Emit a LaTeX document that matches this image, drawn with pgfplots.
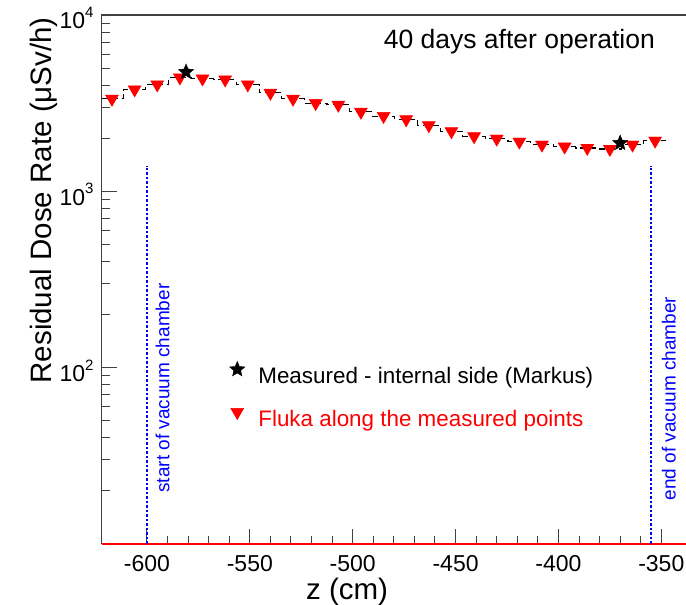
\documentclass[border=0pt]{standalone}
\usepackage{pgfplots}
\pgfplotsset{compat=1.18}
\usepackage{fontspec}
\setmainfont{Liberation Sans}
\pgfdeclareplotmark{fstar}{%
\pgfpathmoveto{\pgfpointpolar{90}{\pgfplotmarksize}}%
\pgfpathlineto{\pgfpointpolar{126}{0.45\pgfplotmarksize}}%
\pgfpathlineto{\pgfpointpolar{162}{\pgfplotmarksize}}%
\pgfpathlineto{\pgfpointpolar{198}{0.45\pgfplotmarksize}}%
\pgfpathlineto{\pgfpointpolar{234}{\pgfplotmarksize}}%
\pgfpathlineto{\pgfpointpolar{270}{0.45\pgfplotmarksize}}%
\pgfpathlineto{\pgfpointpolar{306}{\pgfplotmarksize}}%
\pgfpathlineto{\pgfpointpolar{342}{0.45\pgfplotmarksize}}%
\pgfpathlineto{\pgfpointpolar{18}{\pgfplotmarksize}}%
\pgfpathlineto{\pgfpointpolar{54}{0.45\pgfplotmarksize}}%
\pgfpathclose\pgfusepathqfillstroke}
\newcommand{\tlab}[1]{10\raisebox{0.5em}{\fontsize{15}{15}\selectfont #1}}
\pgfplotstableread{
z val
-617 3344
-606 3777
-595 4032
-584 4416
-573 4359
-562 4303
-551 4032
-540 3616
-529 3344
-518 3162
-507 3093
-496 2823
-485 2670
-474 2558
-463 2366
-452 2188
-441 2050
-430 1987
-419 1911
-408 1838
-397 1791
-386 1761
-375 1738
-364 1838
-353 1936
}\fluka
\pgfplotstableread{
z val
-622 3344
-617 3344
-606 3777
-595 4032
-584 4416
-573 4359
-562 4303
-551 4032
-540 3616
-529 3344
-518 3162
-507 3093
-496 2823
-485 2670
-474 2558
-463 2366
-452 2188
-441 2050
-430 1987
-419 1911
-408 1838
-397 1791
-386 1761
-375 1738
-364 1838
-353 1936
-347.5 1936
}\flukahist
\begin{document}
\begin{tikzpicture}
\useasboundingbox (-101.7pt,-61pt) rectangle (584.3pt,544pt);
\begin{axis}[
  at={(0pt,0pt)}, anchor=south west,
  scale only axis, width=584.3pt, height=529pt,
  xmin=-622, xmax=-338,
  ymode=log, ymin=10, ymax=10000,
  clip=false,
  axis line style={draw=none},
  tickpos=left, tick align=inside,
  major tick length=15pt, minor tick length=8pt,
  tick style={black!75, line width=1pt},
  xtick={-600,-550,-500,-450,-400,-350},
  xticklabels={-600,-550,-500,-450,-400,-350},
  minor x tick num=4,
  ytick={100,1000,10000},
  yticklabels={\tlab{2},\tlab{3},\tlab{4}},
  minor ytick={20,30,40,50,60,70,80,90,200,300,400,500,600,700,800,900,2000,3000,4000,5000,6000,7000,8000,9000},
  ticklabel style={font=\fontsize{23}{27}\selectfont, inner sep=0pt},
  xticklabel style={yshift=-11pt},
  yticklabel style={xshift=-8pt, yshift=-3pt},
  reverse legend,
  legend cell align=left,
  legend image code/.code={\draw[#1] plot coordinates {(0pt,8pt)};},
  legend style={at={(axis cs:-559.9,108.8)}, anchor=north west, draw=none, fill=none, inner sep=0pt,
    row sep=20pt, font=\fontsize{22.4}{26}\selectfont,
    nodes={inner sep=0pt, text height=17pt, text depth=5pt}},
  /tikz/every odd column/.append style={column sep=13.5pt},
]
\draw[black!75, line width=1.2pt] (rel axis cs:0,0) -- (rel axis cs:0,1) -- (rel axis cs:1,1);
\draw[red, line width=1.8pt] (rel axis cs:0,0) -- (rel axis cs:1,0);
\addplot[forget plot, blue, line width=2pt, dash pattern=on 2.5pt off 2pt] coordinates {(-600,10) (-600,1400)};
\addplot[forget plot, blue, line width=2pt, dash pattern=on 2.5pt off 2pt] coordinates {(-355,10) (-355,1400)};
\addplot[forget plot, black, line width=1.1pt, dash pattern=on 6pt off 4pt, const plot mark mid] table[x=z, y=val] {\flukahist};
\addplot[only marks, mark=triangle*, mark size=7.5pt, mark options={rotate=180, fill=red, draw=red}] table[x=z, y=val] {\fluka};
\addlegendentry{\textcolor{red}{Fluka along the measured points}}
\addplot[only marks, mark=fstar, mark size=8pt, mark options={fill=black, draw=black}] coordinates {(-581,4751) (-370,1879)};
\addlegendentry{Measured - internal side (Markus)}
\node[anchor=east, inner sep=0pt, font=\fontsize{26.5}{30}\selectfont] at (rel axis cs:0.947,0.949) {40 days after operation};
\node[rotate=90, anchor=west, inner sep=0pt, text=blue, font=\fontsize{19}{22}\selectfont] at (axis cs:-592.4,19.5) {start of vacuum chamber};
\node[rotate=90, anchor=west, inner sep=0pt, text=blue, font=\fontsize{19}{22}\selectfont] at (axis cs:-346.3,17.6) {end of vacuum chamber};
\node[anchor=base, inner sep=0pt, font=\fontsize{29.5}{34}\selectfont] at ([yshift=-56pt]rel axis cs:0.42,0) {z (cm)};
\node[rotate=90, anchor=base east, inner sep=0pt, font=\fontsize{29.5}{34}\selectfont] at ([xshift=-50pt, yshift=-2pt]rel axis cs:0,1) {Residual Dose Rate (μSv/h)};
\end{axis}
\end{tikzpicture}
\end{document}
